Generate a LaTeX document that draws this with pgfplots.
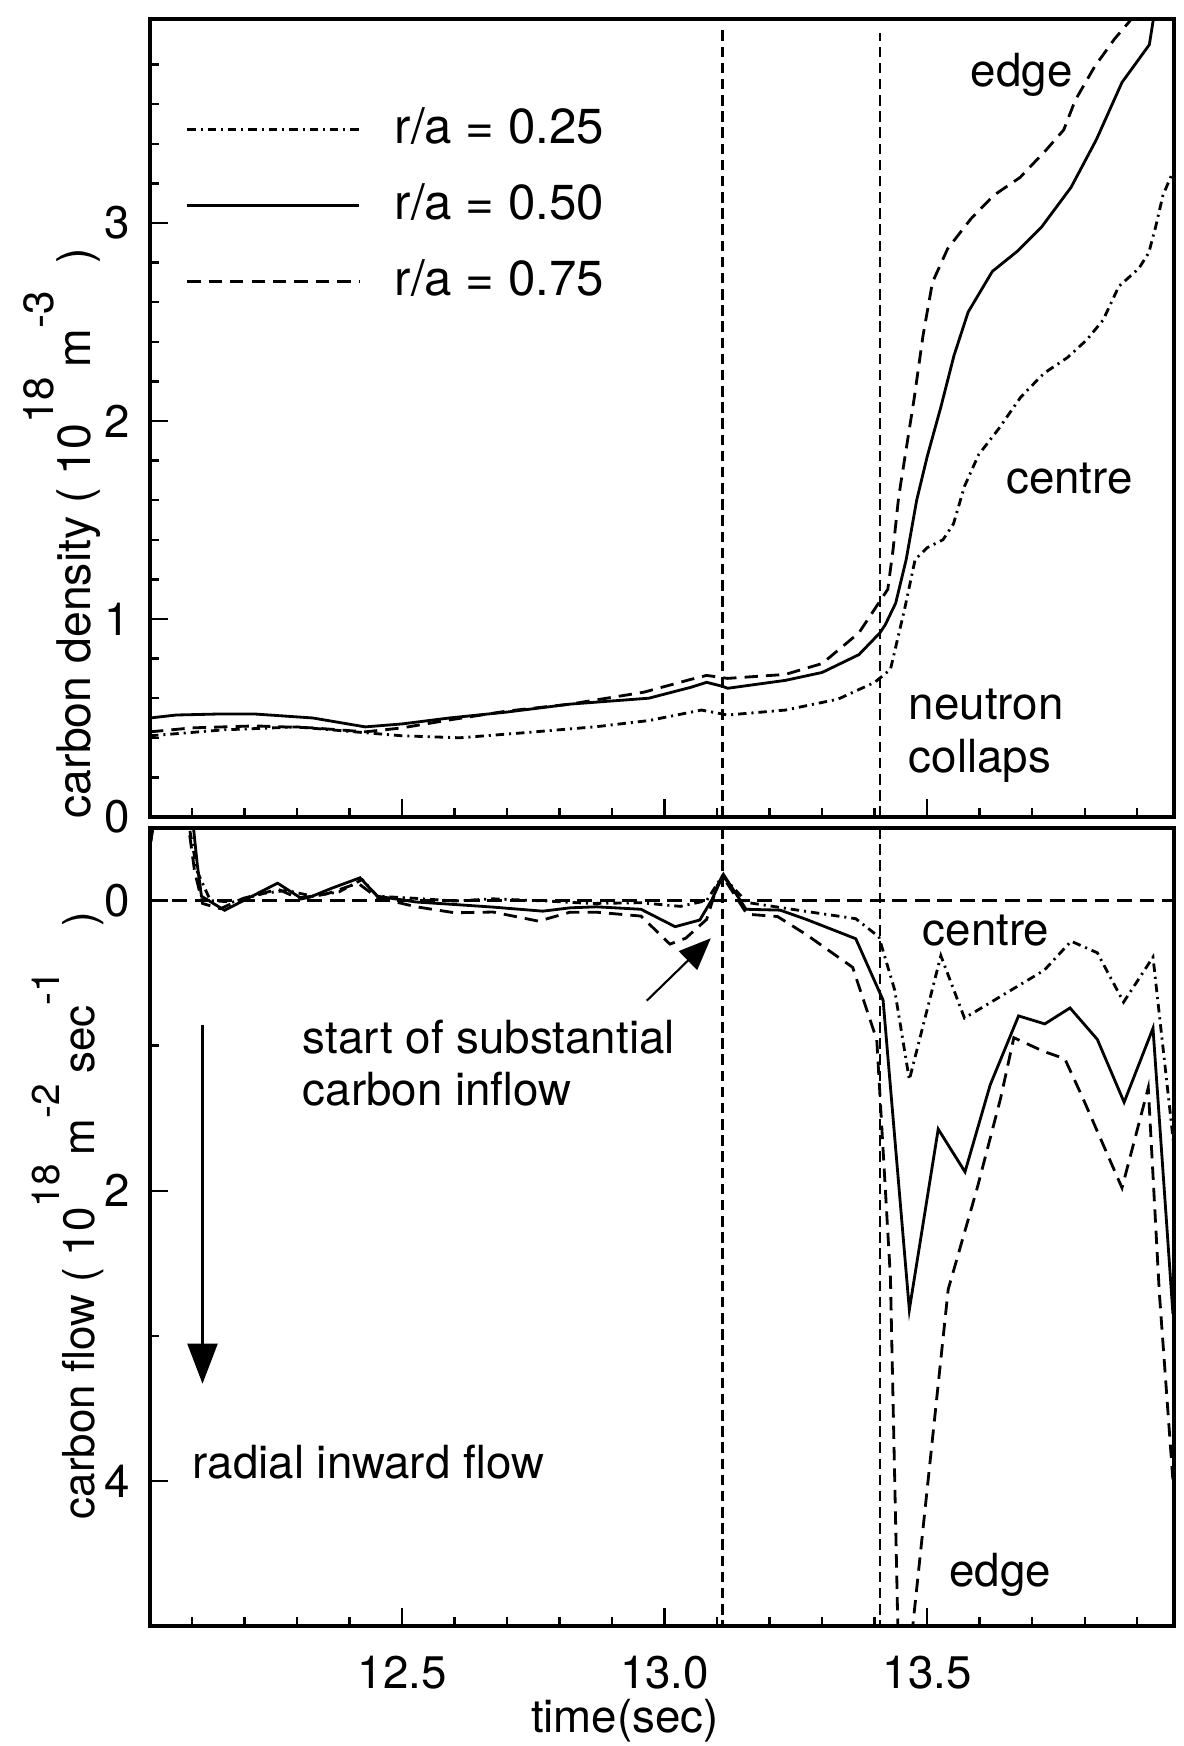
\documentclass[border=0pt]{standalone}
\usepackage{fontspec}
\setmainfont{TeX Gyre Heros}
\usepackage{pgfplots}
\pgfplotsset{compat=1.18}
\usetikzlibrary{arrows.meta}

\newcommand{\lbl}{\fontsize{13}{15}\selectfont}
\newcommand{\leglbl}{\fontsize{14}{16}\selectfont}
\newcommand{\up}[1]{\raisebox{10.5pt}{\fontsize{12}{12}\selectfont #1}}
\newcommand{\upb}[1]{\raisebox{10pt}{\fontsize{11}{11}\selectfont #1}}

\pgfplotsset{
  panel/.style={
    scale only axis, width=10.24cm, height=7.98cm,
    xmin=12.02, xmax=13.97,
    axis line style={line width=1pt},
    tick style={black, line width=0.7pt},
    major tick length=1.8mm, minor tick length=0.9mm,
    tick align=inside,
    xtick={12.5,13,13.5},
    minor xtick={12.1,12.2,12.3,12.4,12.6,12.7,12.8,12.9,13.1,13.2,13.3,13.4,13.6,13.7,13.8,13.9},
    ticklabel style={font=\lbl},
    /pgf/number format/assume math mode=true,
  },
  r25/.style={black, line width=0.8pt, dash pattern=on 2.4pt off 1.4pt on 0.6pt off 1.4pt},
  r50/.style={black, line width=0.8pt},
  r75/.style={black, line width=0.8pt, dash pattern=on 3.8pt off 2.3pt},
  refline/.style={black, line width=0.7pt, dash pattern=on 3pt off 1.6pt},
  zeroline/.style={black, line width=0.7pt, dash pattern=on 4.2pt off 2.2pt},
}

\begin{document}
\begin{tikzpicture}
\useasboundingbox (0,0) rectangle (11.84,17.46);

% ---------- carbon density ----------
\begin{axis}[panel, name=top, at={(1.50cm,9.29cm)}, anchor=south west,
  ymin=0, ymax=4.03, ytick={0,1,2,3},
  minor ytick={0.2,0.4,0.6,0.8,1.2,1.4,1.6,1.8,2.2,2.4,2.6,2.8,3.2,3.4,3.6,3.8},
  xtick pos=left, ytick pos=left, xticklabels={},
  yticklabel style={xshift=-0.8mm},
  legend style={draw=none, fill=none, at={(axis description cs:0.024,0.897)}, anchor=north west,
    row sep=3.5mm, nodes={inner sep=0pt, text height=3.5mm, text depth=0.6mm, font=\leglbl},
    /tikz/every odd column/.append style={column sep=3.4mm}},
  legend image code/.code={\draw[#1] (0cm,0cm) -- (1.72cm,0cm);},
]
\addplot[r25] coordinates {
(12.02,0.41) (12.16,0.44) (12.30,0.455) (12.41,0.43) (12.50,0.41) (12.61,0.40)
(12.73,0.425) (12.87,0.456) (12.97,0.487) (13.07,0.54) (13.12,0.515) (13.23,0.54)
(13.33,0.595) (13.40,0.68) (13.43,0.745) (13.457,1.05) (13.477,1.30) (13.50,1.36)
(13.53,1.40) (13.55,1.48) (13.571,1.67) (13.598,1.83) (13.636,1.96) (13.678,2.12)
(13.722,2.24) (13.767,2.32) (13.804,2.41) (13.835,2.51) (13.865,2.68) (13.903,2.77)
(13.922,2.85) (13.935,2.98) (13.949,3.14) (13.965,3.24)};
\addlegendentry{r/a = 0.25}
\addplot[r50] coordinates {
(12.02,0.50) (12.07,0.515) (12.15,0.52) (12.22,0.52) (12.33,0.50) (12.43,0.455)
(12.50,0.47) (12.59,0.50) (12.70,0.53) (12.82,0.57) (12.97,0.60) (13.05,0.655)
(13.08,0.68) (13.11,0.66) (13.12,0.65) (13.23,0.69) (13.30,0.73) (13.37,0.82)
(13.41,0.93) (13.42,0.97) (13.44,1.08) (13.46,1.30) (13.48,1.60) (13.50,1.82)
(13.526,2.07) (13.551,2.33) (13.578,2.55) (13.624,2.755) (13.673,2.86) (13.718,2.98)
(13.774,3.18) (13.822,3.42) (13.871,3.71) (13.923,3.90) (13.935,4.10)};
\addlegendentry{r/a = 0.50}
\addplot[r75] coordinates {
(12.02,0.43) (12.10,0.45) (12.22,0.46) (12.33,0.45) (12.43,0.43) (12.50,0.45)
(12.59,0.49) (12.70,0.535) (12.82,0.57) (12.96,0.63) (13.05,0.695) (13.08,0.715)
(13.12,0.70) (13.23,0.72) (13.30,0.775) (13.37,0.93) (13.40,1.05) (13.425,1.15)
(13.435,1.35) (13.445,1.60) (13.45,1.69) (13.475,2.11) (13.492,2.43) (13.51,2.70)
(13.539,2.87) (13.583,3.02) (13.627,3.14) (13.677,3.23) (13.727,3.37) (13.76,3.47)
(13.782,3.62) (13.819,3.79) (13.857,3.93) (13.886,4.02) (13.90,4.10)};
\addlegendentry{r/a = 0.75}
\addplot[refline, forget plot] coordinates {(13.11,0) (13.11,3.99)};
\addplot[refline, forget plot] coordinates {(13.41,0) (13.41,3.96)};
\node[font=\lbl] at (axis cs:13.68,3.75) {edge};
\node[font=\lbl] at (axis cs:13.771,1.71) {centre};
\node[font=\lbl, anchor=west, align=left, inner sep=0pt] at (axis cs:13.464,0.41) {neutron\\collaps};
\end{axis}

% ---------- carbon flow ----------
\begin{axis}[panel, name=bot, at={(1.50cm,1.20cm)}, anchor=south west,
  y dir=reverse, ymin=-0.5, ymax=5.0, ytick={0,2,4}, minor ytick={1,3},
  xtick pos=left, ytick pos=left,
  xticklabels={12.5,13.0,13.5},
  xticklabel style={yshift=-1.8mm},
  yticklabel style={xshift=-0.8mm},
]
\addplot[zeroline] coordinates {(12.02,0) (13.97,0)};
\addplot[refline] coordinates {(13.11,-0.5) (13.11,5)};
\addplot[refline] coordinates {(13.41,-0.5) (13.41,5)};
\addplot[r25] coordinates {
(12.02,-0.38) (12.03,-0.6) (12.09,-0.6) (12.11,-0.2) (12.135,0.0) (12.178,0.01)
(12.237,-0.05) (12.28,-0.07) (12.33,-0.03) (12.38,-0.06) (12.424,-0.145) (12.453,-0.03)
(12.527,-0.015) (12.60,0.003) (12.673,-0.012) (12.78,0.004) (12.86,0.02) (12.955,0.015)
(13.03,0.04) (13.08,0.0) (13.11,-0.17) (13.157,0.013) (13.27,0.075) (13.364,0.125)
(13.408,0.25) (13.438,0.615) (13.466,1.235) (13.526,0.38) (13.571,0.81) (13.723,0.48)
(13.774,0.28) (13.824,0.36) (13.874,0.70) (13.93,0.39) (13.97,1.70)};
\addplot[r50] coordinates {
(12.02,-0.38) (12.03,-0.6) (12.10,-0.6) (12.11,-0.25) (12.118,-0.03) (12.162,0.067)
(12.263,-0.12) (12.306,-0.02) (12.329,-0.03) (12.366,-0.085) (12.42,-0.157) (12.453,-0.03)
(12.527,0.01) (12.60,0.027) (12.673,0.045) (12.768,0.073) (12.82,0.05) (12.87,0.043)
(12.955,0.06) (13.02,0.18) (13.067,0.134) (13.09,-0.006) (13.112,-0.18) (13.155,0.06)
(13.22,0.066) (13.27,0.13) (13.364,0.263) (13.416,0.686) (13.466,2.82) (13.521,1.575)
(13.572,1.87) (13.62,1.27) (13.674,0.795) (13.724,0.85) (13.772,0.74) (13.824,0.957)
(13.875,1.39) (13.93,0.88) (13.968,2.85)};
\addplot[r75] coordinates {
(12.02,-0.38) (12.03,-0.6) (12.09,-0.6) (12.105,-0.2) (12.12,0.02) (12.154,0.056)
(12.198,-0.016) (12.264,-0.078) (12.306,-0.01) (12.36,-0.05) (12.416,-0.12) (12.453,-0.02)
(12.527,0.043) (12.60,0.084) (12.673,0.079) (12.76,0.142) (12.82,0.08) (12.87,0.08)
(12.955,0.107) (13.01,0.30) (13.04,0.26) (13.08,0.13) (13.10,-0.10) (13.11,-0.17)
(13.157,0.094) (13.215,0.11) (13.27,0.235) (13.358,0.46) (13.404,0.96) (13.43,2.60)
(13.447,5.5) (13.458,5.5) (13.54,2.68) (13.595,1.985) (13.64,1.36) (13.665,0.945)
(13.722,1.04) (13.762,1.09) (13.795,1.35) (13.871,1.98) (13.921,1.29) (13.942,2.70)
(13.97,4.10)};
\node[font=\lbl] at (axis cs:13.612,0.205) {centre};
\node[font=\lbl] at (axis cs:13.639,4.65) {edge};
\node[font=\lbl, anchor=west, align=left, inner sep=0pt] at (axis cs:12.31,1.12)
  {start of substantial\\carbon inflow};
\node[font=\lbl, anchor=west, inner sep=0pt] at (axis cs:12.10,3.87) {radial inward flow};
\draw[-{Triangle[length=3.2mm,width=2.6mm]}, line width=0.6pt]
  (axis cs:12.966,0.69) -- (axis cs:13.088,0.26);
\draw[-{Triangle[length=4mm,width=3mm]}, line width=0.6pt]
  (axis cs:12.12,0.855) -- (axis cs:12.12,3.33);
\end{axis}

% axis titles
\node[font=\fontsize{13.2}{16}\selectfont, rotate=90, anchor=base west, inner sep=0pt]
  at ([xshift=-6.0mm, yshift=-0.2mm]top.south west)
  {carbon density ( 10\up{18}\hspace{0.2em}m\up{-3}\hspace{0.6em})};
\node[font=\fontsize{12.5}{15}\selectfont, rotate=90, anchor=base west, inner sep=0pt]
  at ([xshift=-5.5mm, yshift=10.6mm]bot.south west)
  {carbon flow ( 10\upb{18}\hspace{0.2em}m\upb{-2}\hspace{0.25em}sec\upb{-1}\hspace{1.0em})};
\node[font=\lbl] at ([xshift=4.75cm, yshift=-0.95cm]bot.south west) {time(sec)};
\end{tikzpicture}
\end{document}
